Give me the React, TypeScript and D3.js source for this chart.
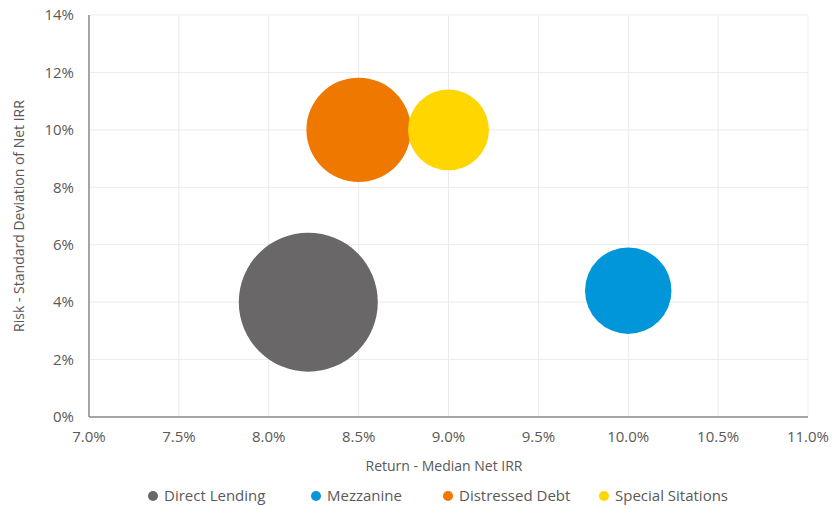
import React from "react";
import * as d3 from "d3";

const seriesNames = ["Direct Lending", "Mezzanine", "Distressed Debt", "Special Sitations"];
const returns = [8.22, 10.0, 8.5, 9.0];
const risks = [4.0, 4.4, 10.0, 10.0];
const sizes = [31, 12, 17.5, 10.5];
const colors = ["#696767", "#0096d9", "#ef7800", "#ffd600"];
const xTicks = [7.0, 7.5, 8.0, 8.5, 9.0, 9.5, 10.0, 10.5, 11.0];
const yTicks = [0, 2, 4, 6, 8, 10, 12, 14];

const W = 834;
const H = 509;
const m = { left: 89, right: 808, top: 15, bottom: 417 };

export default function App() {
  const x = d3.scaleLinear().domain([7, 11]).range([m.left, m.right]);
  const y = d3.scaleLinear().domain([0, 14]).range([m.bottom, m.top]);
  const r = d3.scaleSqrt().domain([0, 31]).range([0, 69.5]);
  const font = "'Open Sans', sans-serif";
  const tc = "#595959";
  const legendX = [153, 316, 448, 604];
  return (
    <svg width={W} height={H} style={{ position: "absolute", left: 0, top: 0, fontFamily: font }}>
      <rect width={W} height={H} fill="#fff" />
      {xTicks.map((t) => (
        <line key={"gx" + t} x1={x(t)} x2={x(t)} y1={m.top} y2={m.bottom} stroke="#ebebeb" strokeWidth={1} />
      ))}
      {yTicks.map((t) => (
        <line key={"gy" + t} x1={m.left} x2={m.right} y1={y(t)} y2={y(t)} stroke="#ebebeb" strokeWidth={1} />
      ))}
      <line x1={m.left} x2={m.left} y1={m.top} y2={m.bottom} stroke="#8a8a8a" strokeWidth={1.5} />
      <line x1={m.left} x2={m.right} y1={m.bottom} y2={m.bottom} stroke="#8a8a8a" strokeWidth={1.5} />
      {yTicks.map((t) => (
        <text key={"ty" + t} x={74} y={y(t)} dy="0.35em" textAnchor="end" fontSize={15} fill={tc}>
          {t + "%"}
        </text>
      ))}
      {xTicks.map((t) => (
        <text key={"tx" + t} x={x(t)} y={442} textAnchor="middle" fontSize={15} fill={tc}>
          {t.toFixed(1) + "%"}
        </text>
      ))}
      <text x={444} y={471} textAnchor="middle" fontSize={14} fill={tc}>
        Return - Median Net IRR
      </text>
      <text
        transform={`translate(24, ${(m.top + m.bottom) / 2}) rotate(-90)`}
        textAnchor="middle"
        fontSize={14}
        fill={tc}
      >
        Risk - Standard Deviation of Net IRR
      </text>
      {seriesNames.map((n, i) => (
        <circle key={n} cx={x(returns[i])} cy={y(risks[i])} r={r(sizes[i])} fill={colors[i]} />
      ))}
      {seriesNames.map((n, i) => (
        <g key={"lg" + n}>
          <circle cx={legendX[i]} cy={496} r={5} fill={colors[i]} />
          <text x={legendX[i] + 11} y={496} dy="0.35em" fontSize={15} fill={tc}>
            {n}
          </text>
        </g>
      ))}
    </svg>
  );
}
